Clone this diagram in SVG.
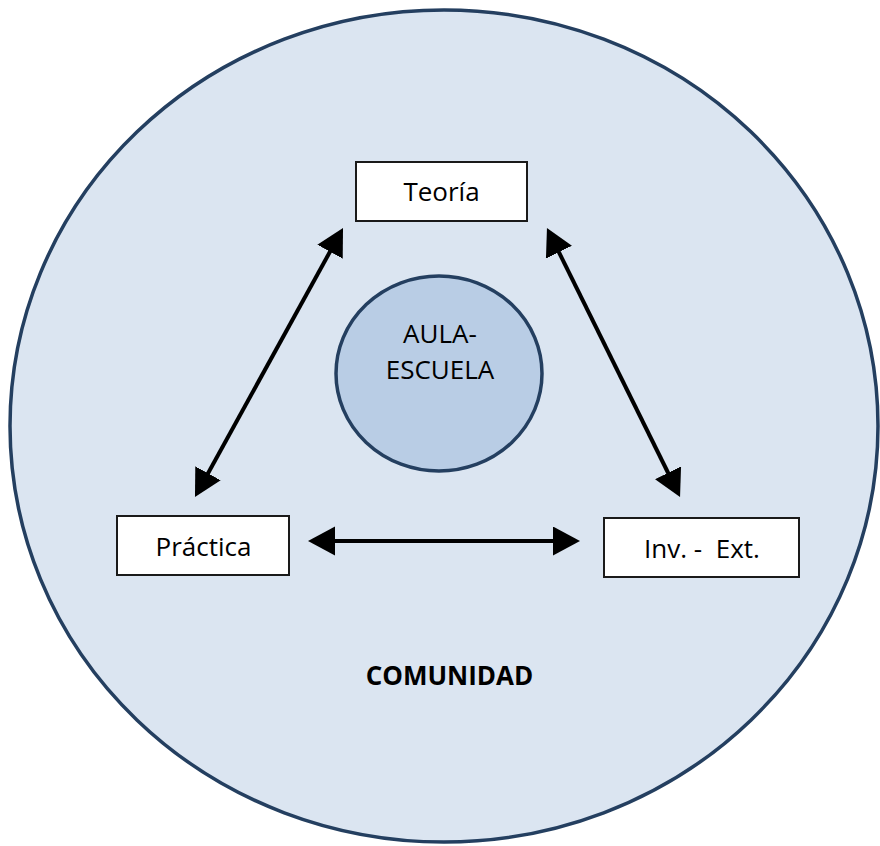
<svg xmlns="http://www.w3.org/2000/svg" width="880" height="846" viewBox="0 0 880 846">
<style>
  text { font-family: "Open Sans", "Liberation Sans", sans-serif; font-size: 26px; fill: #000; text-anchor: middle; }
  .box { fill: #ffffff; stroke: #1a1a1a; stroke-width: 2; }
  .conn { stroke: #000; stroke-width: 4; fill: none; marker-start: url(#ah); marker-end: url(#ah); }
  .bold { font-weight: bold; font-size: 26px; }
</style>
<defs>
  <marker id="ah" markerUnits="userSpaceOnUse" markerWidth="30" markerHeight="30" refX="17" refY="14.5" orient="auto-start-reverse" viewBox="0 0 30 30">
    <path d="M0,0 L27,14.5 L0,29 z" fill="#000"/>
  </marker>
</defs>
<rect width="880" height="846" fill="#ffffff"/>
<g id="comunidad">
  <ellipse cx="444" cy="426" rx="434" ry="416" fill="#dbe5f1" stroke="#243f60" stroke-width="3.5"/>
  <text x="449.5" y="685" class="bold">COMUNIDAD</text>
</g>
<g id="aula-escuela">
  <ellipse cx="439" cy="373.5" rx="103" ry="97.5" fill="#b9cde5" stroke="#243f60" stroke-width="3.5"/>
  <text x="440" y="343">AULA-</text>
  <text x="440" y="379">ESCUELA</text>
</g>
<g id="teoria">
  <rect class="box" x="356" y="162" width="171" height="59"/>
  <text x="441.5" y="201">Teoría</text>
</g>
<g id="practica">
  <rect class="box" x="117" y="516" width="172" height="59"/>
  <text x="203.5" y="556">Práctica</text>
</g>
<g id="inv-ext">
  <rect class="box" x="604" y="518" width="195" height="59"/>
  <text x="702" y="558" xml:space="preserve">Inv. -  Ext.</text>
</g>
<g id="connectors">
  <path class="conn" d="M199.8,488.2 L338.2,236.8"/>
  <path class="conn" d="M551.4,237 L675.6,488"/>
  <path class="conn" d="M318,541 L570,541"/>
</g>
</svg>
